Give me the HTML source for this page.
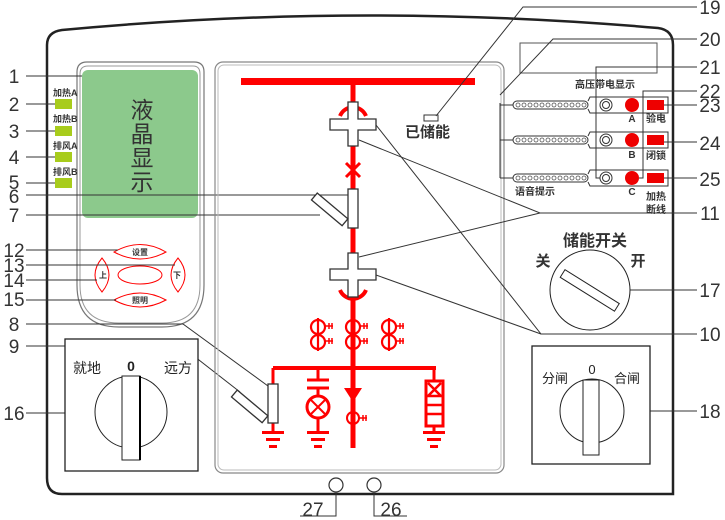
<!DOCTYPE html>
<html><head><meta charset="utf-8"><style>
html,body{margin:0;padding:0;background:#fff;}
svg{display:block;font-family:"Liberation Sans","Noto Sans CJK SC",sans-serif;}
.n{font-size:19px;fill:#333;}
.b{font-weight:bold;}
</style></head><body>
<svg width="725" height="520" viewBox="0 0 725 520" xmlns="http://www.w3.org/2000/svg">
<!-- outer frame -->
<path d="M47,478 L47,45 Q47,32 62,30 Q360,2 658,28 Q673,30 673,45 L673,494 L62,494 Q47,494 47,478" fill="none" stroke="#222" stroke-width="2.5"/>
<!-- left LCD panel -->
<path d="M77,72 Q77,62 87,62 L194,62 Q204,62 204,72 L204,285 Q204,327 162,327 L119,327 Q77,327 77,285 Z" fill="none" stroke="#777" stroke-width="1.2"/>
<path d="M80,74 Q80,66 88,66 L193,66 Q200,66 200,74 L200,285 Q200,323 162,323 L119,323 Q80,323 80,285 Z" fill="none" stroke="#999" stroke-width="1"/>
<rect x="82" y="70" width="116" height="148" rx="6" fill="#8cc98c"/>
<g font-size="23" fill="#333" text-anchor="middle"><text x="142" y="118">液</text><text x="142" y="142">晶</text><text x="142" y="166">显</text><text x="142" y="190">示</text></g>
<!-- LEDs -->
<g fill="#a8cc1c"><rect x="55" y="99" width="17" height="10"/><rect x="55" y="126" width="17" height="10"/><rect x="55" y="152" width="17" height="10"/><rect x="55" y="178" width="17" height="10"/></g>
<g font-size="9" class="b" fill="#333"><text x="53" y="96">加热A</text><text x="53" y="122">加热B</text><text x="53" y="149">排风A</text><text x="53" y="175">排风B</text></g>
<!-- buttons -->
<g fill="none" stroke="#f00" stroke-width="1">
<path d="M114,252 Q140,237 166,252 Q140,266 114,252Z"/>
<path d="M114,300 Q140,286 166,300 Q140,314 114,300Z"/>
<path d="M102,258 Q88,275 102,292 Q116,275 102,258Z"/>
<path d="M178,258 Q192,275 178,292 Q164,275 178,258Z"/>
<ellipse cx="140" cy="275" rx="22" ry="9"/>
</g>
<g font-size="8" class="b" fill="#333" text-anchor="middle"><text x="140" y="255">设置</text><text x="140" y="303">照明</text><text x="103" y="278">上</text><text x="177" y="278">下</text></g>
<!-- left numbers -->
<g class="n" text-anchor="middle"><text x="14" y="83">1</text><text x="14" y="111">2</text><text x="14" y="138">3</text><text x="14" y="164">4</text><text x="14" y="189">5</text><text x="14" y="203">6</text><text x="14" y="222">7</text><text x="14" y="257">12</text><text x="14" y="272">13</text><text x="14" y="287">14</text><text x="14" y="306">15</text><text x="14" y="331">8</text><text x="14" y="353">9</text><text x="14" y="420">16</text></g>
<g stroke="#333" stroke-width="1" fill="none">
<line x1="26" y1="76" x2="82" y2="76"/><line x1="26" y1="104" x2="55" y2="104"/><line x1="26" y1="131" x2="55" y2="131"/><line x1="26" y1="157" x2="55" y2="157"/><line x1="26" y1="183" x2="55" y2="183"/>
<line x1="26" y1="195" x2="348" y2="195"/><line x1="26" y1="215" x2="320" y2="215"/>
<line x1="26" y1="250" x2="118" y2="250"/><line x1="26" y1="265" x2="175" y2="265"/><line x1="26" y1="280" x2="97" y2="280"/><line x1="26" y1="300" x2="116" y2="300"/>
<polyline points="26,324 183,324 268,386"/><polyline points="26,346 181,346 240,392"/>
<line x1="26" y1="413" x2="95" y2="413"/>
</g>
<!-- box 16 -->
<rect x="65" y="339" width="133" height="132" fill="#fff" stroke="#222" stroke-width="1.3"/>
<g font-size="14" fill="#222" text-anchor="middle"><text x="87" y="373">就地</text><text x="131" y="371" class="b">0</text><text x="178" y="373">远方</text></g>
<circle cx="131" cy="412" r="36" fill="#fff" stroke="#222" stroke-width="1"/>
<rect x="122" y="376" width="18" height="84" fill="#fff" stroke="#222" stroke-width="1"/>
<line x1="140" y1="376" x2="140" y2="460" stroke="#000" stroke-width="2"/>
<!-- center panel -->
<rect x="215" y="62" width="289" height="411" rx="8" fill="none" stroke="#888" stroke-width="1.2"/>
<rect x="218" y="65" width="283" height="405" rx="6" fill="none" stroke="#bbb" stroke-width="1"/>
<!-- red diagram -->
<g stroke="#f00" fill="none">
<rect x="241" y="78" width="234" height="7" fill="#f00" stroke="none"/>
<line x1="353" y1="84" x2="353" y2="448" stroke-width="5"/>
<path d="M340,116 A14,14 0 0 1 366,116" stroke-width="4"/>
<path d="M340,290 A14,14 0 0 0 366,290" stroke-width="4"/>
<path d="M346,163 L360,177 M360,163 L346,177" stroke-width="3"/>
<line x1="273" y1="368" x2="436" y2="368" stroke-width="4"/>
<line x1="273" y1="368" x2="273" y2="432" stroke-width="3"/>
<line x1="318" y1="368" x2="318" y2="380" stroke-width="3"/>
<line x1="307" y1="380" x2="329" y2="380" stroke-width="3"/>
<line x1="307" y1="388" x2="329" y2="388" stroke-width="3"/>
<line x1="318" y1="388" x2="318" y2="396" stroke-width="3"/>
<circle cx="318" cy="407" r="11" stroke-width="3"/>
<path d="M310,399 L326,415 M326,399 L310,415" stroke-width="2"/>
<line x1="318" y1="418" x2="318" y2="432" stroke-width="3"/>
<line x1="434" y1="368" x2="434" y2="432" stroke-width="3"/>
<rect x="426" y="381" width="17" height="45" fill="#fff" stroke-width="3"/>
<path d="M428,383 L441,396 M441,383 L428,396 M426,396 L443,396 M426,405 L443,405 M426,414 L443,414" stroke-width="2.5"/>
<circle cx="353" cy="418" r="6" stroke-width="2"/>
<path d="M359,418 L367,418 M363,415 L363,421 M366,415 L366,421" stroke-width="1.5"/>
</g>
<polygon points="344,388 362,388 353,402" fill="#f00"/>
<g fill="#f00">
<rect x="262" y="431" width="22" height="3"/><rect x="266" y="438" width="14" height="3"/><rect x="269" y="445" width="8" height="3"/>
<rect x="307" y="431" width="22" height="3"/><rect x="311" y="438" width="14" height="3"/><rect x="314" y="445" width="8" height="3"/>
<rect x="423" y="431" width="22" height="3"/><rect x="427" y="438" width="14" height="3"/><rect x="430" y="445" width="8" height="3"/>
</g>
<!-- CTs -->
<g stroke="#f00" fill="none" stroke-width="2.2">
<g id="ct"><circle cx="318" cy="327" r="7"/><circle cx="318" cy="342" r="7"/><line x1="318" y1="318" x2="318" y2="351"/>
<path d="M325,326 L333,326 M329,323 L329,329 M332,323 L332,329 M325,341 L333,341 M329,338 L329,344 M332,338 L332,344" stroke-width="1.5"/></g>
<use href="#ct" x="35"/><use href="#ct" x="71"/>
</g>
<!-- crosses -->
<g fill="#fff" stroke="#333" stroke-width="1.3">
<path d="M348,102 L358,102 L358,119 L376,119 L376,130 L358,130 L358,146 L348,146 L348,130 L330,130 L330,119 L348,119 Z"/>
<path d="M348,253 L358,253 L358,269 L376,269 L376,280 L358,280 L358,297 L348,297 L348,280 L330,280 L330,269 L348,269 Z"/>
<rect x="348" y="189" width="10" height="39"/>
<rect x="310" y="205" width="40" height="9" transform="rotate(40 330 209)"/>
<rect x="268" y="384" width="10" height="39"/>
<rect x="230" y="402" width="40" height="9" transform="rotate(40 250 406)"/>
</g>
<!-- 已储能 -->
<rect x="424" y="115" width="14" height="6" fill="#fff" stroke="#333" stroke-width="1"/>
<text x="405" y="137" font-size="15" class="b" fill="#333">已储能</text>
<!-- right top -->
<rect x="520" y="43" width="137" height="30" fill="none" stroke="#555" stroke-width="1"/>
<text x="605" y="88" font-size="10" class="b" fill="#333" text-anchor="middle">高压带电显示</text>
<g stroke="#333" stroke-width="1" fill="none">
<g id="row">
<rect x="513" y="101" width="75" height="8" rx="4"/>
<path d="M588,101 L590,97 L668,97 L668,113 L590,113 L588,109"/>
<circle cx="606" cy="105" r="6"/><circle cx="606" cy="105" r="3.5"/>
</g>
<use href="#row" y="35"/><use href="#row" y="73"/>
</g>
<g fill="none" stroke="#555" stroke-width="0.8">
<g id="dots"><circle cx="518" cy="105" r="2"/><circle cx="524" cy="105" r="2"/><circle cx="530" cy="105" r="2"/><circle cx="536" cy="105" r="2"/><circle cx="542" cy="105" r="2"/><circle cx="548" cy="105" r="2"/><circle cx="554" cy="105" r="2"/><circle cx="560" cy="105" r="2"/><circle cx="566" cy="105" r="2"/><circle cx="572" cy="105" r="2"/><circle cx="578" cy="105" r="2"/><circle cx="584" cy="105" r="2"/></g>
<use href="#dots" y="35"/><use href="#dots" y="73"/>
</g>
<g fill="#e00"><circle cx="632" cy="105" r="7"/><circle cx="632" cy="140" r="7"/><circle cx="632" cy="178" r="7"/>
<rect x="647" y="100" width="17" height="10"/><rect x="647" y="135" width="17" height="10"/><rect x="647" y="173" width="17" height="10"/></g>
<g font-size="10" class="b" fill="#333" text-anchor="middle"><text x="632" y="122">A</text><text x="632" y="158">B</text><text x="632" y="195">C</text>
<text x="656" y="122">验电</text><text x="656" y="159">闭锁</text><text x="656" y="200">加热</text><text x="656" y="213">断线</text><text x="535" y="195">语音提示</text></g>
<g stroke="#333" stroke-width="1" fill="none">
<polyline points="436,116 523,7 697,7"/>
<polyline points="500,95 553,39 697,39"/>
<polyline points="500,103 500,178"/><line x1="500" y1="105" x2="513" y2="105"/><line x1="500" y1="140" x2="513" y2="140"/><line x1="500" y1="178" x2="513" y2="178"/>
<polyline points="600,178 596,178 596,67 697,67"/>
<polyline points="639,178 643,178 643,91 697,91"/>
<line x1="664" y1="105" x2="697" y2="105"/><line x1="664" y1="142" x2="697" y2="142"/><line x1="664" y1="178" x2="697" y2="178"/>
<polyline points="359,140 540,213 697,213"/><line x1="359" y1="257" x2="540" y2="213"/>
<polyline points="376,125 541,334 697,334"/><line x1="376" y1="275" x2="541" y2="334"/>
<line x1="630" y1="290" x2="697" y2="290"/><line x1="624" y1="411" x2="697" y2="411"/>
</g>
<g class="n" text-anchor="middle"><text x="710" y="14">19</text><text x="710" y="46">20</text><text x="710" y="74">21</text><text x="710" y="98">22</text><text x="710" y="112">23</text><text x="710" y="150">24</text><text x="710" y="186">25</text><text x="710" y="220">11</text><text x="710" y="297">17</text><text x="710" y="341">10</text><text x="710" y="418">18</text></g>
<!-- storage switch -->
<text x="595" y="246" font-size="16" class="b" fill="#333" text-anchor="middle">储能开关</text>
<text x="543" y="266" font-size="15" class="b" fill="#333" text-anchor="middle">关</text>
<text x="638" y="266" font-size="15" class="b" fill="#333" text-anchor="middle">开</text>
<circle cx="590" cy="290" r="40" fill="#fff" stroke="#222" stroke-width="1"/>
<rect x="558" y="286" width="64" height="9" fill="#fff" stroke="#222" stroke-width="1" transform="rotate(32 590 290)"/>
<!-- box 18 -->
<rect x="532" y="346" width="118" height="118" fill="#fff" stroke="#222" stroke-width="1.3"/>
<g font-size="13" fill="#222" text-anchor="middle"><text x="555" y="383">分闸</text><text x="592" y="374">0</text><text x="627" y="383">合闸</text></g>
<circle cx="592" cy="411" r="32" fill="#fff" stroke="#222" stroke-width="1"/>
<rect x="583" y="380" width="16" height="75" fill="#fff" stroke="#222" stroke-width="1"/>
<!-- bottom -->
<circle cx="336" cy="485" r="7" fill="#fff" stroke="#333" stroke-width="1.2"/>
<circle cx="374" cy="485" r="7" fill="#fff" stroke="#333" stroke-width="1.2"/>
<polyline points="336,492 336,516 300,516" fill="none" stroke="#333" stroke-width="1"/>
<polyline points="374,492 374,516 407,516" fill="none" stroke="#333" stroke-width="1"/>
<text x="313" y="516" class="n" text-anchor="middle">27</text>
<text x="391" y="516" class="n" text-anchor="middle">26</text>
</svg>
</body></html>
